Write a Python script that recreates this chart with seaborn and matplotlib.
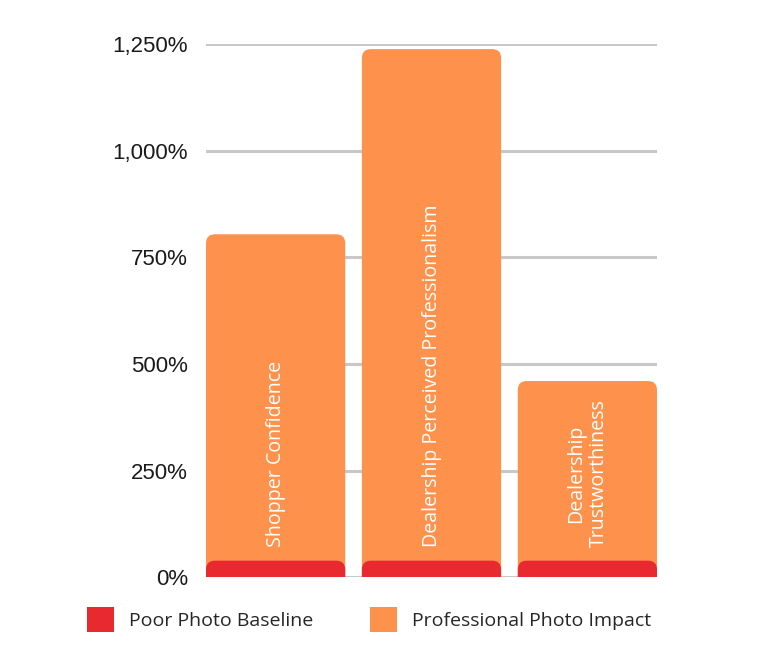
import matplotlib
matplotlib.use("Agg")
import matplotlib.pyplot as plt
from matplotlib.patches import FancyBboxPatch, Patch
import seaborn as sns
import pandas as pd
import numpy as np

categories = ["Shopper Confidence", "Dealership Perceived Professionalism", "Dealership Trustworthiness"]
bar_labels = ["Shopper Confidence", "Dealership Perceived Professionalism", "Dealership\nTrustworthiness"]
impact = [804, 1238, 460]      # Professional Photo Impact (%)
baseline = [39, 39, 39]        # Poor Photo Baseline (%)
yticks = [0, 250, 500, 750, 1000, 1250]
ytick_labels = ["0%", "250%", "500%", "750%", "1,000%", "1,250%"]
series_names = ["Poor Photo Baseline", "Professional Photo Impact"]

ORANGE = "#FE914C"
RED = "#E8292F"

sns.set_theme(style="white")
plt.rcParams["font.family"] = ["Liberation Sans", "DejaVu Sans"]

fig = plt.figure(figsize=(7.68, 6.5), dpi=100)
ax = fig.add_axes([206/768, 1-577.3/650, 451/768, 533.3/650])

df = pd.DataFrame({"cat": categories, "impact": impact, "baseline": baseline})
W = 0.893
sns.barplot(data=df, x="cat", y="impact", color=ORANGE, width=W, ax=ax, saturation=1)
sns.barplot(data=df, x="cat", y="baseline", color=RED, width=W, ax=ax, saturation=1)

ax.set_xlim(-W/2, len(categories)-1+W/2)
ax.set_ylim(0, 1250)
ax.set_yticks(yticks)
ax.set_yticklabels(ytick_labels, fontsize=16, color="#1a1a1a")
ax.tick_params(axis="y", length=0, pad=13)
ax.set_xticks([])
ax.set_xlabel("")
ax.set_ylabel("")
for s in ax.spines.values():
    s.set_visible(False)
ax.set_axisbelow(True)
ax.yaxis.grid(True, color="#c8c8c8", linewidth=2.2)

# rounded bar tops
fig.canvas.draw()
p0 = ax.transData.transform((0, 0))
p1 = ax.transData.transform((1, 1))
px_per_x = p1[0] - p0[0]
px_per_y = p1[1] - p0[1]
asp = px_per_x / px_per_y
r_px = 9
r = r_px / px_per_x
old = list(ax.patches)
for p in old:
    x, y = p.get_x(), p.get_y()
    w, h = p.get_width(), p.get_height()
    fc = p.get_facecolor()
    p.remove()
    ext = r * asp
    fb = FancyBboxPatch((x, y - ext), w, h + ext,
                        boxstyle=f"round,pad=0,rounding_size={r}",
                        mutation_aspect=asp, facecolor=fc, edgecolor="none",
                        linewidth=0, zorder=2)
    ax.add_patch(fb)

for i, lab in enumerate(bar_labels):
    ax.text(i, 70, lab, rotation=90, ha="center", va="bottom",
            multialignment="center", color="white", fontsize=14.1,
            family=["Open Sans", "DejaVu Sans"], zorder=3, linespacing=1.15)

handles = [Patch(facecolor=RED, edgecolor="none"), Patch(facecolor=ORANGE, edgecolor="none")]
fig.legend(handles, series_names, loc="center left", bbox_to_anchor=(87/768, 1-619.5/650),
           ncol=2, frameon=False, prop={"family": ["Open Sans", "DejaVu Sans"], "size": 14},
           handlelength=1.39, handleheight=1.63, handletextpad=0.75, columnspacing=2.95,
           borderaxespad=0, borderpad=0)

fig.savefig("out.png", dpi=100)
